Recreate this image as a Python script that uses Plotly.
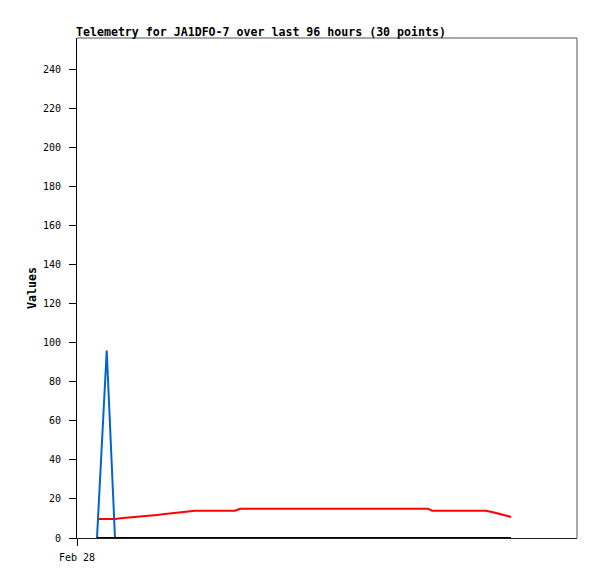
import plotly.graph_objects as go

times = [
    "2023-02-28 04:48", "2023-02-28 07:08", "2023-02-28 09:07", "2023-02-28 11:02",
    "2023-02-28 14:10", "2023-02-28 17:17", "2023-02-28 19:12", "2023-02-28 21:07",
    "2023-02-28 23:46", "2023-03-01 02:10", "2023-03-01 04:19", "2023-03-01 09:07",
    "2023-03-01 13:55", "2023-03-01 15:07", "2023-03-01 22:19", "2023-03-02 05:31",
    "2023-03-02 12:43", "2023-03-02 19:55", "2023-03-03 03:07", "2023-03-03 07:55",
    "2023-03-03 12:14", "2023-03-03 13:12", "2023-03-03 17:31", "2023-03-03 22:19",
    "2023-03-04 02:10", "2023-03-04 03:36", "2023-03-04 05:17", "2023-03-04 06:43",
    "2023-03-04 07:26", "2023-03-04 08:10",
]
red_values = [9.7, 9.7, 9.7, 10.2, 10.7, 11.3, 11.8, 12.3, 13.0, 13.5,
              14.0, 14.0, 14.0, 15.0, 15.0, 15.0, 15.0, 15.0, 15.0, 15.0,
              15.0, 14.0, 14.0, 14.0, 14.0, 13.3, 12.5, 11.8, 11.3, 10.8]
blue_values = [0, 96, 0] + [0] * 27
black_values = [0] * 30

y_ticks = [0, 20, 40, 60, 80, 100, 120, 140, 160, 180, 200, 220, 240]
x_tick_vals = ["2023-02-28 00:00"]
x_tick_text = ["Feb 28"]
title_text = "Telemetry for JA1DFO-7 over last 96 hours (30 points)"
y_title = "Values"

mono = "DejaVu Sans Mono"

fig = go.Figure()
fig.add_trace(go.Scatter(x=times, y=red_values, mode="lines",
                         line=dict(color="#ff0000", width=2)))
fig.add_trace(go.Scatter(x=times, y=blue_values, mode="lines",
                         line=dict(color="#0066cc", width=2)))
fig.add_trace(go.Scatter(x=times, y=black_values, mode="lines",
                         line=dict(color="#000000", width=2)))

fig.update_layout(
    width=589, height=571,
    margin=dict(l=69, r=20, t=30, b=41),
    paper_bgcolor="white", plot_bgcolor="white",
    showlegend=False, hovermode=False,
    font=dict(family=mono, size=10, color="#000"),
    xaxis=dict(
        type="date",
        range=["2023-02-28 00:00", "2023-03-05 00:00"],
        tickmode="array", tickvals=x_tick_vals, ticktext=x_tick_text,
        ticks="outside", ticklen=7, tickcolor="#000", tickwidth=1,
        showgrid=False, zeroline=False,
        showline=True, linecolor="#222", linewidth=1,
        tickfont=dict(family=mono, size=10, color="#000"),
        ticklabelstandoff=3,
    ),
    yaxis=dict(
        range=[0, 256],
        tickmode="array", tickvals=y_ticks,
        ticks="outside", ticklen=7, tickcolor="#000", tickwidth=1,
        showgrid=False, zeroline=False,
        showline=True, linecolor="#000", linewidth=1,
        tickfont=dict(family=mono, size=10, color="#000"),
        ticklabelstandoff=6,
    ),
    shapes=[
        dict(type="line", xref="paper", yref="paper", x0=0, x1=1, y0=1, y1=1,
             line=dict(color="#555", width=1)),
        dict(type="line", xref="paper", yref="paper", x0=1, x1=1, y0=0, y1=1,
             line=dict(color="#555", width=1)),
    ],
    annotations=[
        dict(text="<b>%s</b>" % title_text, xref="paper", yref="paper",
             x=0, y=1, xanchor="left", yanchor="bottom", xshift=-3, yshift=-3,
             showarrow=False, font=dict(family=mono, size=11.6, color="#000")),
        dict(text="<b>%s</b>" % y_title, xref="paper", yref="paper",
             x=-0.09, y=0.5, xanchor="center", yanchor="middle", textangle=-90,
             showarrow=False, font=dict(family=mono, size=11.6, color="#000")),
    ],
)

fig.write_html("out.html")
